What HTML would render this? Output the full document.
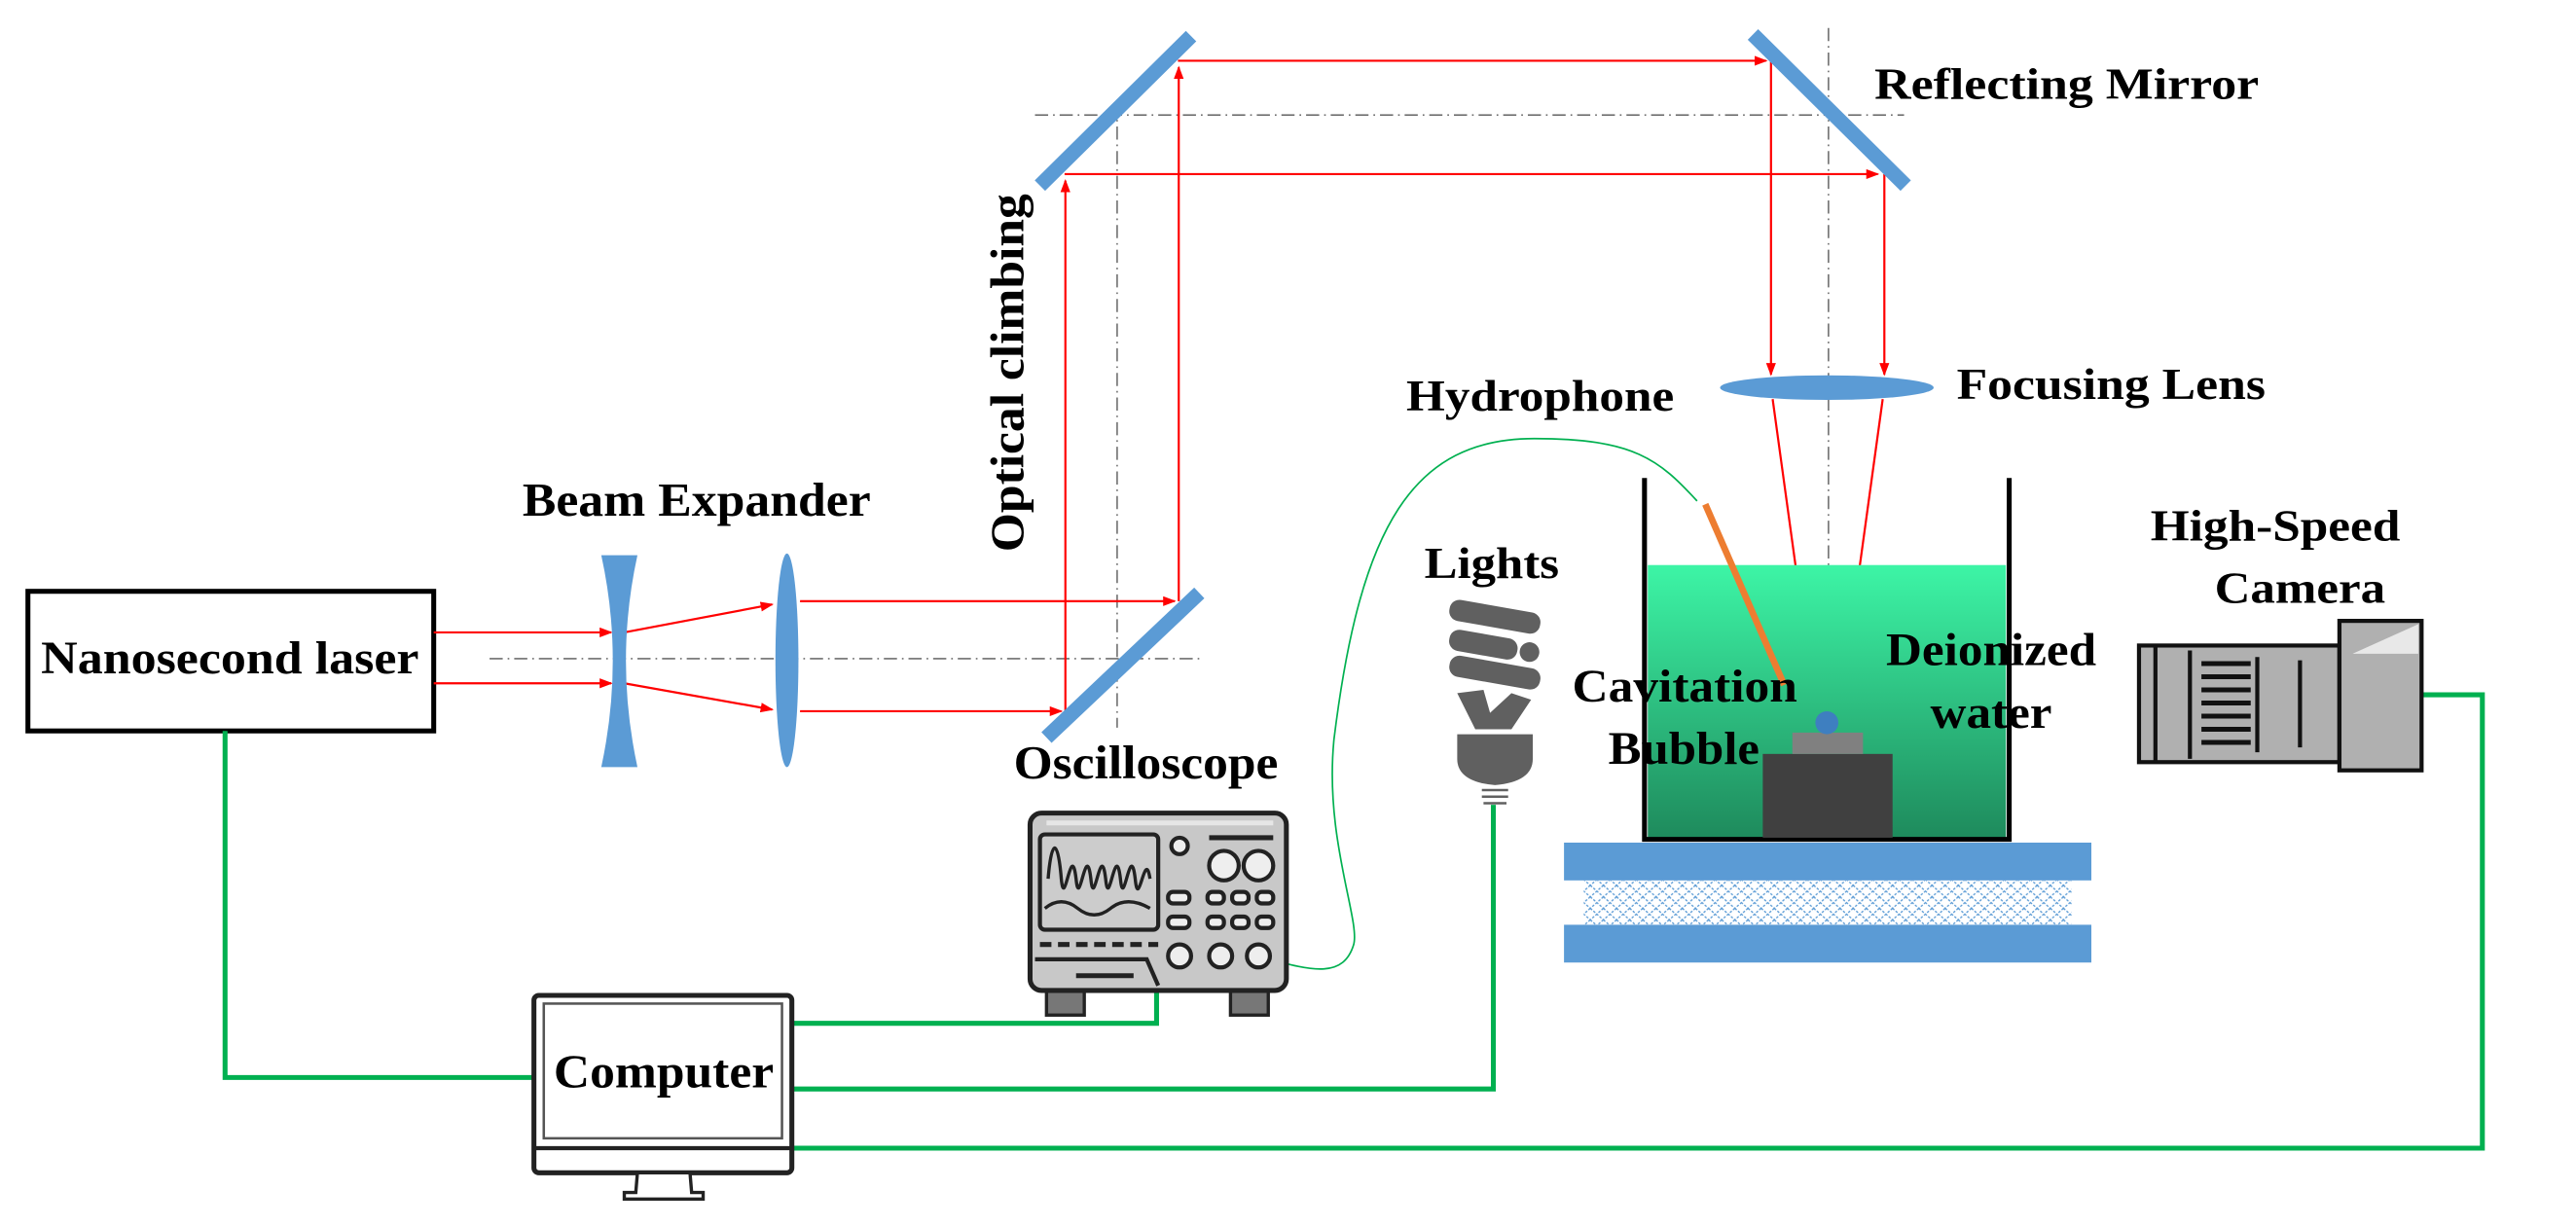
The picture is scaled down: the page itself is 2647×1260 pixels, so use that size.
<!DOCTYPE html>
<html><head><meta charset="utf-8"><style>html,body{margin:0;padding:0;background:#fff}svg{display:block}text{font-family:"Liberation Serif",serif;font-weight:bold;fill:#000}</style></head>
<body>
<svg width="2647" height="1260" viewBox="0 0 1568 746.4" preserveAspectRatio="none" xmlns="http://www.w3.org/2000/svg">
<defs>
<marker id="ar" markerWidth="8" markerHeight="8" refX="7" refY="3" orient="auto" markerUnits="userSpaceOnUse"><path d="M0,0 L8,3 L0,6 z" fill="#f00"/></marker>
<linearGradient id="wg" x1="0" y1="0" x2="0" y2="1"><stop offset="0" stop-color="#3df5a6"/><stop offset="1" stop-color="#1e8a5c"/></linearGradient>
<pattern id="mesh" width="8" height="7" patternUnits="userSpaceOnUse"><path d="M0,0 L8,7 M8,0 L0,7" stroke="#5b9bd5" stroke-width="0.8" stroke-dasharray="1.5,1"/></pattern>
</defs>
<g fill="none" stroke="#555" stroke-width="0.8" stroke-dasharray="8,3,1,3">
<line x1="298" y1="401" x2="733" y2="401"/>
<line x1="630" y1="70" x2="1159" y2="70"/>
<line x1="680" y1="62" x2="680" y2="443"/>
<line x1="1113" y1="17" x2="1113" y2="433"/>
</g>
<rect x="17" y="360" width="247" height="85" fill="#fff" stroke="#000" stroke-width="3"/>
<text x="140" y="410" text-anchor="middle" font-size="28" textLength="230" lengthAdjust="spacingAndGlyphs">Nanosecond laser</text>
<g stroke="#f00" stroke-width="1.3" fill="none">
<line x1="264" y1="385" x2="372" y2="385" marker-end="url(#ar)"/>
<line x1="264" y1="416" x2="372" y2="416" marker-end="url(#ar)"/>
<line x1="380" y1="385" x2="470" y2="368" marker-end="url(#ar)"/>
<line x1="380" y1="416" x2="470" y2="432" marker-end="url(#ar)"/>
<line x1="487" y1="366" x2="715" y2="366" marker-end="url(#ar)"/>
<line x1="487" y1="433" x2="646" y2="433" marker-end="url(#ar)"/>
<line x1="648.5" y1="433" x2="648.5" y2="110" marker-end="url(#ar)"/>
<line x1="717.5" y1="366" x2="717.5" y2="41" marker-end="url(#ar)"/>
<line x1="717" y1="37" x2="1075" y2="37" marker-end="url(#ar)"/>
<line x1="648" y1="106" x2="1143" y2="106" marker-end="url(#ar)"/>
<line x1="1078" y1="37" x2="1078" y2="228" marker-end="url(#ar)"/>
<line x1="1147" y1="106" x2="1147" y2="228" marker-end="url(#ar)"/>
<line x1="1079" y1="243" x2="1105" y2="432" marker-end="url(#ar)"/>
<line x1="1146" y1="243" x2="1120" y2="432" marker-end="url(#ar)"/>
</g>
<path d="M366,338 L388,338 Q374,402 388,467 L366,467 Q380,402 366,338 z" fill="#5b9bd5"/>
<ellipse cx="479" cy="402" rx="7" ry="65" fill="#5b9bd5"/>
<g stroke="#5b9bd5" stroke-width="9">
<line x1="637" y1="449" x2="730" y2="361"/>
<line x1="633" y1="113" x2="725" y2="22"/>
<line x1="1067" y1="21" x2="1160" y2="113"/>
</g>
<ellipse cx="1112" cy="236" rx="65" ry="7.5" fill="#5b9bd5"/>

<!-- tank -->
<rect x="1003" y="344" width="218" height="167" fill="url(#wg)"/>
<path d="M1001,291 L1001,511 L1223,511 L1223,291" fill="none" stroke="#000" stroke-width="3"/>
<rect x="1073" y="459" width="79" height="51" fill="#404040"/>
<rect x="1091" y="446" width="43" height="13" fill="#808080"/>
<ellipse cx="1112" cy="440" rx="7" ry="7" fill="#3e7fc0"/>
<line x1="1038" y1="307" x2="1086" y2="417" stroke="#ed7d31" stroke-width="4"/>
<rect x="952" y="513" width="321" height="23" fill="#5b9bd5"/>
<rect x="964" y="536" width="297" height="27" fill="url(#mesh)"/>
<rect x="952" y="563" width="321" height="23" fill="#5b9bd5"/>

<!-- green wires -->
<g stroke="#00b050" stroke-width="3" fill="none">
<polyline points="137,445 137,656 325,656"/>
<polyline points="483,623 704,623 704,603"/>
<polyline points="483,663 909,663 909,490"/>
<polyline points="483,699 1511,699 1511,423 1474,423"/>
</g>
<path d="M1033,305 C1010,280 995,267 934,267 C860,267 828,320 812,450 C806,510 828,560 824,575 C818,595 800,592 770,583" fill="none" stroke="#00b050" stroke-width="1"/>

<!-- bulb -->
<g fill="#606060">
<rect x="882" y="369" width="56" height="13" rx="6" transform="rotate(10 910 375)"/>
<rect x="882" y="386" width="42" height="13" rx="6" transform="rotate(10 903 392)"/>
<circle cx="931" cy="397" r="6"/>
<rect x="882" y="403" width="56" height="13" rx="6" transform="rotate(10 910 409)"/>
<path d="M887,422 L903,420 L907,434 L920,422 L932,426 L920,444 L898,444 z"/>
<path d="M887,447 L933,447 L933,462 Q933,476 910,478 Q887,476 887,462 z"/>
</g>
<g stroke="#606060" stroke-width="1.5"><line x1="902" y1="481" x2="918" y2="481"/><line x1="902" y1="485" x2="918" y2="485"/><line x1="903" y1="489" x2="917" y2="489"/></g>

<!-- camera -->
<g stroke="#111" stroke-width="2.5">
<rect x="1302" y="393" width="122" height="71" fill="#b0b0b0"/>
<rect x="1424" y="378" width="50" height="91" fill="#b0b0b0"/>
<path d="M1432,398 L1472,380 L1472,398 z" fill="#e8e8e8" stroke="none"/>
</g>
<g stroke="#111" stroke-width="2.5">
<line x1="1312" y1="393" x2="1312" y2="464"/><line x1="1333" y1="396" x2="1333" y2="462"/>
<line x1="1374" y1="400" x2="1374" y2="458"/><line x1="1400" y1="402" x2="1400" y2="455"/>
</g>
<g stroke="#111" stroke-width="3">
<line x1="1340" y1="404" x2="1370" y2="404"/><line x1="1340" y1="412" x2="1370" y2="412"/><line x1="1340" y1="420" x2="1370" y2="420"/><line x1="1340" y1="428" x2="1370" y2="428"/><line x1="1340" y1="436" x2="1370" y2="436"/><line x1="1340" y1="444" x2="1370" y2="444"/><line x1="1340" y1="452" x2="1370" y2="452"/>
</g>

<!-- oscilloscope -->
<rect x="637" y="602" width="23" height="16" fill="#777" stroke="#222" stroke-width="2"/>
<rect x="749" y="602" width="23" height="16" fill="#777" stroke="#222" stroke-width="2"/>
<rect x="627" y="495" width="156" height="108" rx="7" fill="#c8c8c8" stroke="#222" stroke-width="3"/>
<line x1="637" y1="501" x2="775" y2="501" stroke="#e6e6e6" stroke-width="3"/>
<rect x="633" y="508" width="72" height="58" rx="3" fill="#ccc" stroke="#222" stroke-width="2.5"/>
<path d="M638,535 C640,510 644,510 646,535 C648,556 652,510 655,535 C657,556 661,510 664,535 C666,556 670,510 673,535 C675,556 679,510 682,535 C684,556 688,510 691,535 C693,556 697,515 700,535" fill="none" stroke="#222" stroke-width="2"/>
<path d="M636,553 Q646,545 656,553 T676,553 T700,553" fill="none" stroke="#222" stroke-width="2"/>
<g fill="#eee" stroke="#222" stroke-width="2.5">
<circle cx="718" cy="515" r="5"/><circle cx="745" cy="527" r="9"/><circle cx="766" cy="527" r="9"/>
<rect x="711" y="543" width="13" height="7" rx="3"/><rect x="735" y="543" width="10" height="7" rx="3"/><rect x="750" y="543" width="10" height="7" rx="3"/><rect x="765" y="543" width="10" height="7" rx="3"/>
<rect x="711" y="558" width="13" height="7" rx="3"/><rect x="735" y="558" width="10" height="7" rx="3"/><rect x="750" y="558" width="10" height="7" rx="3"/><rect x="765" y="558" width="10" height="7" rx="3"/>
<circle cx="718" cy="582" r="7"/><circle cx="743" cy="582" r="7"/><circle cx="766" cy="582" r="7"/>
</g>
<line x1="736" y1="510" x2="775" y2="510" stroke="#222" stroke-width="3"/>
<line x1="633" y1="575" x2="705" y2="575" stroke="#222" stroke-width="3" stroke-dasharray="7,4"/>
<path d="M630,584 L698,584 L705,600" fill="none" stroke="#222" stroke-width="2.5"/>
<line x1="655" y1="594" x2="690" y2="594" stroke="#222" stroke-width="3"/>

<!-- computer -->
<rect x="325" y="606" width="157" height="108" rx="3" fill="#fff" stroke="#222" stroke-width="3"/>
<rect x="331" y="611" width="145" height="82" fill="#fff" stroke="#555" stroke-width="1.5"/>
<line x1="325" y1="699" x2="482" y2="699" stroke="#222" stroke-width="2.5"/>
<path d="M388,714 L420,714 L421,726 L428,726 L428,730 L380,730 L380,726 L387,726 z" fill="#fff" stroke="#222" stroke-width="2"/>

<text x="424" y="314" text-anchor="middle" font-size="29" textLength="212" lengthAdjust="spacingAndGlyphs">Beam Expander</text>
<text transform="translate(623,227) rotate(-90)" text-anchor="middle" font-size="29" textLength="218" lengthAdjust="spacingAndGlyphs">Optical climbing</text>
<text x="617" y="474" font-size="29" textLength="161" lengthAdjust="spacingAndGlyphs">Oscilloscope</text>
<text x="1141" y="60" font-size="27" textLength="234" lengthAdjust="spacingAndGlyphs">Reflecting Mirror</text>
<text x="1191" y="243" font-size="27" textLength="188" lengthAdjust="spacingAndGlyphs">Focusing Lens</text>
<text x="856" y="250" font-size="27" textLength="163" lengthAdjust="spacingAndGlyphs">Hydrophone</text>
<text x="867" y="352" font-size="27" textLength="82" lengthAdjust="spacingAndGlyphs">Lights</text>
<text x="1309" y="329" font-size="27" textLength="152" lengthAdjust="spacingAndGlyphs">High-Speed</text>
<text x="1348" y="367" font-size="27" textLength="104" lengthAdjust="spacingAndGlyphs">Camera</text>
<text x="957" y="427" font-size="28" textLength="137" lengthAdjust="spacingAndGlyphs">Cavitation</text>
<text x="979" y="465" font-size="28" textLength="92" lengthAdjust="spacingAndGlyphs">Bubble</text>
<text x="1148" y="405" font-size="28" textLength="128" lengthAdjust="spacingAndGlyphs">Deionized</text>
<text x="1175" y="443" font-size="28" textLength="74" lengthAdjust="spacingAndGlyphs">water</text>
<text x="404" y="662" text-anchor="middle" font-size="29" textLength="134" lengthAdjust="spacingAndGlyphs">Computer</text>
</svg>
</body></html>
